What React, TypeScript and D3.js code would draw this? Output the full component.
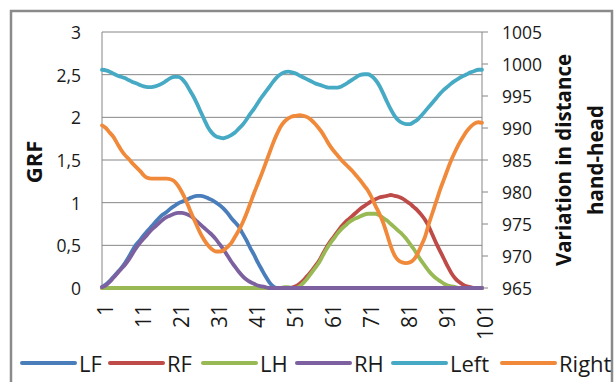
import React from "react";
import * as d3 from "d3";

// gait cycle, % (1..101)
const frames = d3.range(1, 102);
const xTickLabels = [1, 11, 21, 31, 41, 51, 61, 71, 81, 91, 101];
const grfTicks = [0, 0.5, 1, 1.5, 2, 2.5, 3];
const distTicks = [965, 970, 975, 980, 985, 990, 995, 1000, 1005];

const LF = [
  0.01, 0.04, 0.08, 0.13, 0.18, 0.23, 0.29, 0.36, 0.44, 0.51,
  0.56, 0.62, 0.67, 0.72, 0.77, 0.82, 0.86, 0.89, 0.93, 0.96,
  0.99, 1.01, 1.03, 1.05, 1.07, 1.08, 1.08, 1.07, 1.05, 1.03,
  1.0, 0.97, 0.93, 0.88, 0.82, 0.77, 0.72, 0.64, 0.56, 0.47,
  0.39, 0.3, 0.22, 0.14, 0.07, 0.02, 0, 0, 0, 0,
  0, 0, 0, 0, 0, 0, 0, 0, 0, 0,
  0, 0, 0, 0, 0, 0, 0, 0, 0, 0,
  0, 0, 0, 0, 0, 0, 0, 0, 0, 0,
  0, 0, 0, 0, 0, 0, 0, 0, 0, 0,
  0, 0, 0, 0, 0, 0, 0, 0, 0, 0,
  0,
];

const RF = [
  0, 0, 0, 0, 0, 0, 0, 0, 0, 0,
  0, 0, 0, 0, 0, 0, 0, 0, 0, 0,
  0, 0, 0, 0, 0, 0, 0, 0, 0, 0,
  0, 0, 0, 0, 0, 0, 0, 0, 0, 0,
  0, 0, 0, 0, 0, 0, 0, 0, 0, 0,
  0.005, 0.02, 0.05, 0.09, 0.14, 0.19, 0.25, 0.31, 0.39, 0.47,
  0.54, 0.6, 0.66, 0.72, 0.77, 0.81, 0.85, 0.89, 0.93, 0.96,
  0.99, 1.02, 1.04, 1.06, 1.07, 1.08, 1.09, 1.08, 1.07, 1.05,
  1.02, 0.99, 0.95, 0.91, 0.86, 0.8, 0.72, 0.62, 0.52, 0.43,
  0.34, 0.25, 0.17, 0.11, 0.07, 0.04, 0.02, 0.01, 0, 0,
  0,
];

const LH = [
  0, 0, 0, 0, 0, 0, 0, 0, 0, 0,
  0, 0, 0, 0, 0, 0, 0, 0, 0, 0,
  0, 0, 0, 0, 0, 0, 0, 0, 0, 0,
  0, 0, 0, 0, 0, 0, 0, 0, 0, 0,
  0, 0, 0, 0, 0, 0, 0, 0, 0.01, 0.01,
  0, 0, 0.02, 0.06, 0.11, 0.17, 0.23, 0.29, 0.37, 0.45,
  0.52, 0.58, 0.64, 0.69, 0.73, 0.77, 0.8, 0.82, 0.84, 0.86,
  0.87, 0.87, 0.87, 0.85, 0.82, 0.79, 0.75, 0.71, 0.67, 0.63,
  0.58, 0.52, 0.46, 0.39, 0.32, 0.26, 0.2, 0.15, 0.11, 0.08,
  0.05, 0.03, 0.02, 0.01, 0, 0, 0, 0, 0, 0,
  0,
];

const RH = [
  0.01, 0.03, 0.07, 0.12, 0.17, 0.22, 0.27, 0.33, 0.4, 0.47,
  0.53, 0.58, 0.63, 0.68, 0.72, 0.76, 0.8, 0.83, 0.85, 0.87,
  0.88, 0.88, 0.87, 0.85, 0.82, 0.78, 0.74, 0.7, 0.66, 0.62,
  0.57, 0.51, 0.45, 0.38, 0.31, 0.25, 0.19, 0.14, 0.1, 0.07,
  0.05, 0.03, 0.02, 0.01, 0, 0, 0, 0, 0, 0,
  0, 0, 0, 0, 0, 0, 0, 0, 0, 0,
  0, 0, 0, 0, 0, 0, 0, 0, 0, 0,
  0, 0, 0, 0, 0, 0, 0, 0, 0, 0,
  0, 0, 0, 0, 0, 0, 0, 0, 0, 0,
  0, 0, 0, 0, 0, 0, 0, 0, 0, 0,
  0,
];

const Left = [
  999.1, 999.0, 998.8, 998.5, 998.2, 998.0, 997.8, 997.5, 997.2, 997.0,
  996.7, 996.5, 996.4, 996.4, 996.5, 996.7, 997.0, 997.4, 997.8, 998.0,
  998.0, 997.7, 997.0, 996.0, 995.0, 993.8, 992.5, 991.2, 990.0, 989.2,
  988.7, 988.5, 988.4, 988.6, 988.9, 989.3, 989.9, 990.5, 991.3, 992.2,
  993.0, 993.9, 994.8, 995.6, 996.4, 997.2, 997.9, 998.4, 998.7, 998.8,
  998.7, 998.5, 998.2, 997.9, 997.6, 997.3, 997.0, 996.8, 996.6, 996.4,
  996.3, 996.3, 996.3, 996.5, 996.8, 997.2, 997.6, 998.0, 998.3, 998.4,
  998.4, 998.1, 997.5, 996.6, 995.4, 994.1, 992.9, 991.9, 991.2, 990.8,
  990.6, 990.6, 990.9, 991.3, 991.9, 992.6, 993.3, 994.0, 994.7, 995.4,
  996.0, 996.5, 997.0, 997.4, 997.8, 998.1, 998.4, 998.7, 998.9, 999.1,
  999.1,
];

const Right = [
  990.4, 990.0, 989.3, 988.6, 987.6, 986.6, 985.8, 985.2, 984.5, 983.9,
  983.3, 982.6, 982.2, 982.1, 982.1, 982.1, 982.1, 982.1, 982.0, 981.7,
  981.0, 980.0, 978.8, 977.4, 976.0, 974.7, 973.4, 972.4, 971.6, 971.0,
  970.7, 970.7, 970.9, 971.4, 972.0, 973.0, 974.0, 975.2, 976.6, 978.2,
  979.8, 981.3, 982.8, 984.4, 986.0, 987.6, 989.0, 990.2, 991.0, 991.5,
  991.8, 991.9, 992.0, 991.9, 991.7, 991.3, 990.7, 990.0, 989.2, 988.2,
  987.2, 986.4, 985.7, 985.0, 984.4, 983.8, 983.2, 982.5, 981.8, 981.0,
  980.2, 979.1, 977.8, 976.6, 975.2, 973.4, 971.5, 970.1, 969.3, 969.0,
  968.9, 969.0, 969.4, 970.3, 971.6, 973.0, 975.0, 976.8, 978.6, 980.4,
  982.0, 983.6, 985.1, 986.4, 987.6, 988.6, 989.5, 990.2, 990.7, 990.9,
  990.8,
];

const primarySeries = [
  { name: "LF", values: LF, color: "#4a7ebb" },
  { name: "RF", values: RF, color: "#be4b48" },
  { name: "LH", values: LH, color: "#98b954" },
  { name: "RH", values: RH, color: "#7d60a0" },
];
const secondarySeries = [
  { name: "Left", values: Left, color: "#46aac5" },
  { name: "Right", values: Right, color: "#f0893a" },
];

const legendX = [22, 110, 203, 297, 393, 502];

const FONT = "'Open Sans', sans-serif";
const GRID = "#868686";
const INK = "#1a1a1a";

export default function App() {
  const width = 615;
  const height = 382;
  const plot = { left: 102, right: 482, top: 32, bottom: 288 };

  const x = d3.scaleLinear().domain([1, 101]).range([plot.left, plot.right]);
  const yL = d3.scaleLinear().domain([0, 3]).range([plot.bottom, plot.top]);
  const yR = d3.scaleLinear().domain([965, 1005]).range([plot.bottom, plot.top]);

  const lineL = d3
    .line<number>()
    .x((_, i) => x(frames[i]))
    .y((d) => yL(d))
    .curve(d3.curveMonotoneX);
  const lineR = d3
    .line<number>()
    .x((_, i) => x(frames[i]))
    .y((d) => yR(d))
    .curve(d3.curveMonotoneX);

  const allSeries = [...primarySeries, ...secondarySeries];

  return (
    <svg
      width={width}
      height={height}
      style={{ position: "absolute", left: 0, top: 0, background: "#fff" }}
      fontFamily={FONT}
    >
      <rect x={11} y={11} width={601} height={400} fill="#fff" stroke="#8a8a8a" strokeWidth={2.5} />

      {/* gridlines */}
      {grfTicks.map((t) => (
        <line key={t} x1={plot.left} x2={plot.right} y1={yL(t)} y2={yL(t)} stroke={GRID} strokeWidth={1} />
      ))}
      <line x1={plot.left} x2={plot.left} y1={plot.top} y2={plot.bottom} stroke={GRID} />
      <line x1={plot.right} x2={plot.right} y1={plot.top} y2={plot.bottom} stroke={GRID} />
      {distTicks.map((t) => (
        <line key={t} x1={plot.right} x2={plot.right + 6} y1={yR(t)} y2={yR(t)} stroke={GRID} />
      ))}

      {/* left axis labels */}
      {grfTicks.map((t) => (
        <text key={t} x={81} y={yL(t)} textAnchor="end" dominantBaseline="central" fontSize={17.5} fill={INK}>
          {String(t).replace(".", ",")}
        </text>
      ))}
      {/* right axis labels */}
      {distTicks.map((t) => (
        <text key={t} x={502} y={yR(t)} textAnchor="start" dominantBaseline="central" fontSize={17.5} fill={INK}>
          {t}
        </text>
      ))}
      {/* x labels */}
      {xTickLabels.map((t) => (
        <text
          key={t}
          transform={`translate(${x(t) + 3},304) rotate(-90)`}
          textAnchor="end"
          dominantBaseline="central"
          fontSize={21}
          fill={INK}
        >
          {t}
        </text>
      ))}

      {/* series */}
      {primarySeries.map((s) => (
        <path key={s.name} d={lineL(s.values) || ""} fill="none" stroke={s.color} strokeWidth={3.8} strokeLinejoin="round" strokeLinecap="round" />
      ))}
      {secondarySeries.map((s) => (
        <path key={s.name} d={lineR(s.values) || ""} fill="none" stroke={s.color} strokeWidth={3.8} strokeLinejoin="round" strokeLinecap="round" />
      ))}

      {/* axis titles */}
      <text transform="translate(33,162) rotate(-90)" textAnchor="middle" dominantBaseline="central" fontSize={22} fontWeight="bold" fill="#111">
        GRF
      </text>
      <text transform="translate(563,160) rotate(-90)" textAnchor="middle" dominantBaseline="central" fontSize={20.5} fontWeight="bold" fill="#111">
        Variation in distance
      </text>
      <text transform="translate(595,160) rotate(-90)" textAnchor="middle" dominantBaseline="central" fontSize={20.5} fontWeight="bold" fill="#111">
        hand-head
      </text>

      {/* legend */}
      {allSeries.map((s, i) => (
        <g key={s.name} transform={`translate(${legendX[i]},363)`}>
          <line x1={0} x2={53} y1={0} y2={0} stroke={s.color} strokeWidth={4} strokeLinecap="round" />
          <text x={57} y={0} dominantBaseline="central" fontSize={22} fill={INK}>
            {s.name}
          </text>
        </g>
      ))}
    </svg>
  );
}
